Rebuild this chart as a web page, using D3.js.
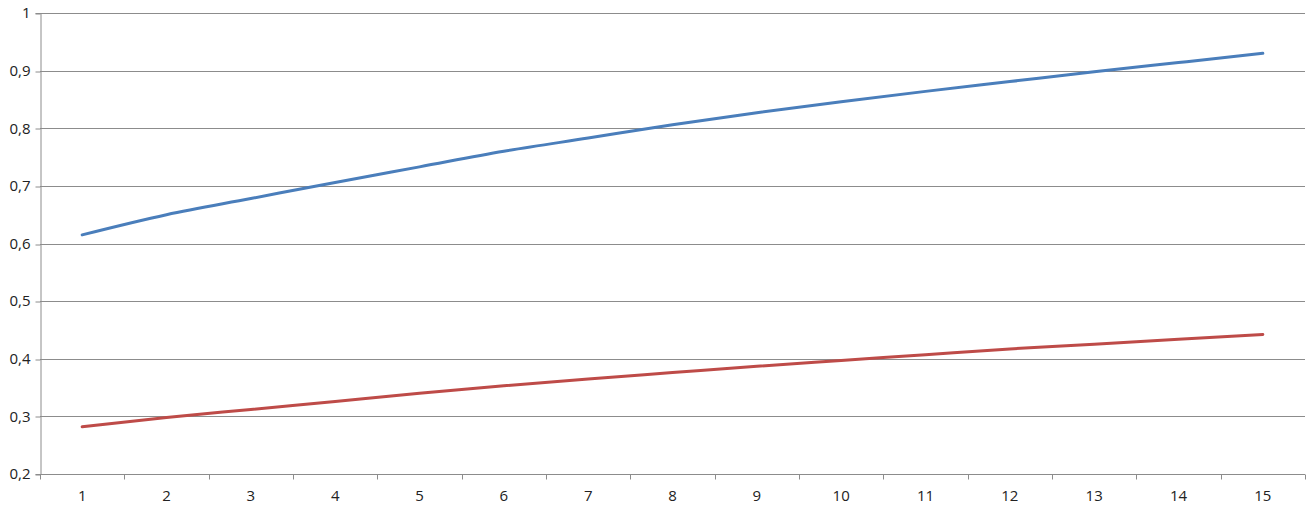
<!DOCTYPE html>
<html>
<head>
<meta charset="utf-8">
<script src="https://cdn.jsdelivr.net/npm/d3@7"></script>
<style>
  html, body { margin: 0; padding: 0; background: #fff; }
  svg { display: block; }
  text { font-family: "Open Sans", "DejaVu Sans", sans-serif; font-size: 15px; fill: #222; }
</style>
</head>
<body>
<svg id="chart"></svg>
<script>
// chart data
const categories = ['1', '2', '3', '4', '5', '6', '7', '8', '9', '10', '11', '12', '13', '14', '15'];
const blueValues = [0.615, 0.650, 0.678, 0.706, 0.733, 0.760, 0.783, 0.806, 0.827, 0.846, 0.864, 0.881, 0.898, 0.914, 0.930];
const redValues = [0.282, 0.298, 0.312, 0.326, 0.340, 0.353, 0.365, 0.376, 0.387, 0.397, 0.407, 0.417, 0.425, 0.434, 0.442];
const yTicks = [0.2, 0.3, 0.4, 0.5, 0.6, 0.7, 0.8, 0.9, 1];

const width = 1316, height = 514;
const margin = { top: 13, right: 11, bottom: 40, left: 40 };

const svg = d3.select('#chart')
    .attr('width', width)
    .attr('height', height);

const x = d3.scaleBand()
    .domain(categories)
    .range([margin.left, width - margin.right]);

const y = d3.scaleLinear()
    .domain([0.2, 1])
    .range([height - margin.bottom, margin.top]);

const fmt = v => d3.format('.1~f')(v).replace('.', ',');

// Gridlines
svg.append('g')
    .selectAll('line')
    .data(yTicks.slice(1))
    .join('line')
    .attr('x1', margin.left)
    .attr('x2', width - margin.right)
    .attr('y1', d => Math.round(y(d)) + 0.5)
    .attr('y2', d => Math.round(y(d)) + 0.5)
    .attr('stroke', '#8c8c8c')
    .attr('stroke-width', 1);

// Y axis
const yAxis = svg.append('g')
    .attr('transform', `translate(${margin.left + 0.5},0)`)
    .call(d3.axisLeft(y).tickValues(yTicks).tickSize(5).tickFormat(fmt));
yAxis.select('.domain').attr('stroke', '#8c8c8c');
yAxis.selectAll('.tick line').attr('stroke', '#8c8c8c')
    .attr('transform', d => `translate(0,${Math.round(y(d)) + 0.5 - y(d)})`);
yAxis.selectAll('.tick text')
    .attr('x', -10)
    .style('font-family', '"Open Sans", "DejaVu Sans", sans-serif')
    .style('font-size', '15px')
    .attr('fill', '#222');

// X axis
const xBase = Math.round(y(0.2)) + 0.5;
const xAxis = svg.append('g')
    .attr('transform', `translate(0,${xBase})`);
xAxis.append('line')
    .attr('x1', margin.left)
    .attr('x2', width - margin.right)
    .attr('stroke', '#8c8c8c');
const bounds = categories.map(c => x(c)).concat([x.range()[1]]);
xAxis.selectAll('line.tick')
    .data(bounds)
    .join('line')
    .attr('class', 'tick')
    .attr('x1', d => Math.round(d) + 0.5)
    .attr('x2', d => Math.round(d) + 0.5)
    .attr('y1', 0)
    .attr('y2', 5)
    .attr('stroke', '#8c8c8c');
xAxis.selectAll('text')
    .data(categories)
    .join('text')
    .attr('x', d => x(d) + x.bandwidth() / 2)
    .attr('y', 26)
    .attr('text-anchor', 'middle')
    .text(d => d);

// Lines
const line = d3.line()
    .x((d, i) => x(categories[i]) + x.bandwidth() / 2)
    .y(d => y(d))
    .curve(d3.curveMonotoneX);

svg.append('path')
    .datum(blueValues)
    .attr('fill', 'none')
    .attr('stroke', '#4a7ebb')
    .attr('stroke-width', 3)
    .attr('stroke-linecap', 'round')
    .attr('d', line);

svg.append('path')
    .datum(redValues)
    .attr('fill', 'none')
    .attr('stroke', '#be4b48')
    .attr('stroke-width', 3)
    .attr('stroke-linecap', 'round')
    .attr('d', line);
</script>
</body>
</html>
